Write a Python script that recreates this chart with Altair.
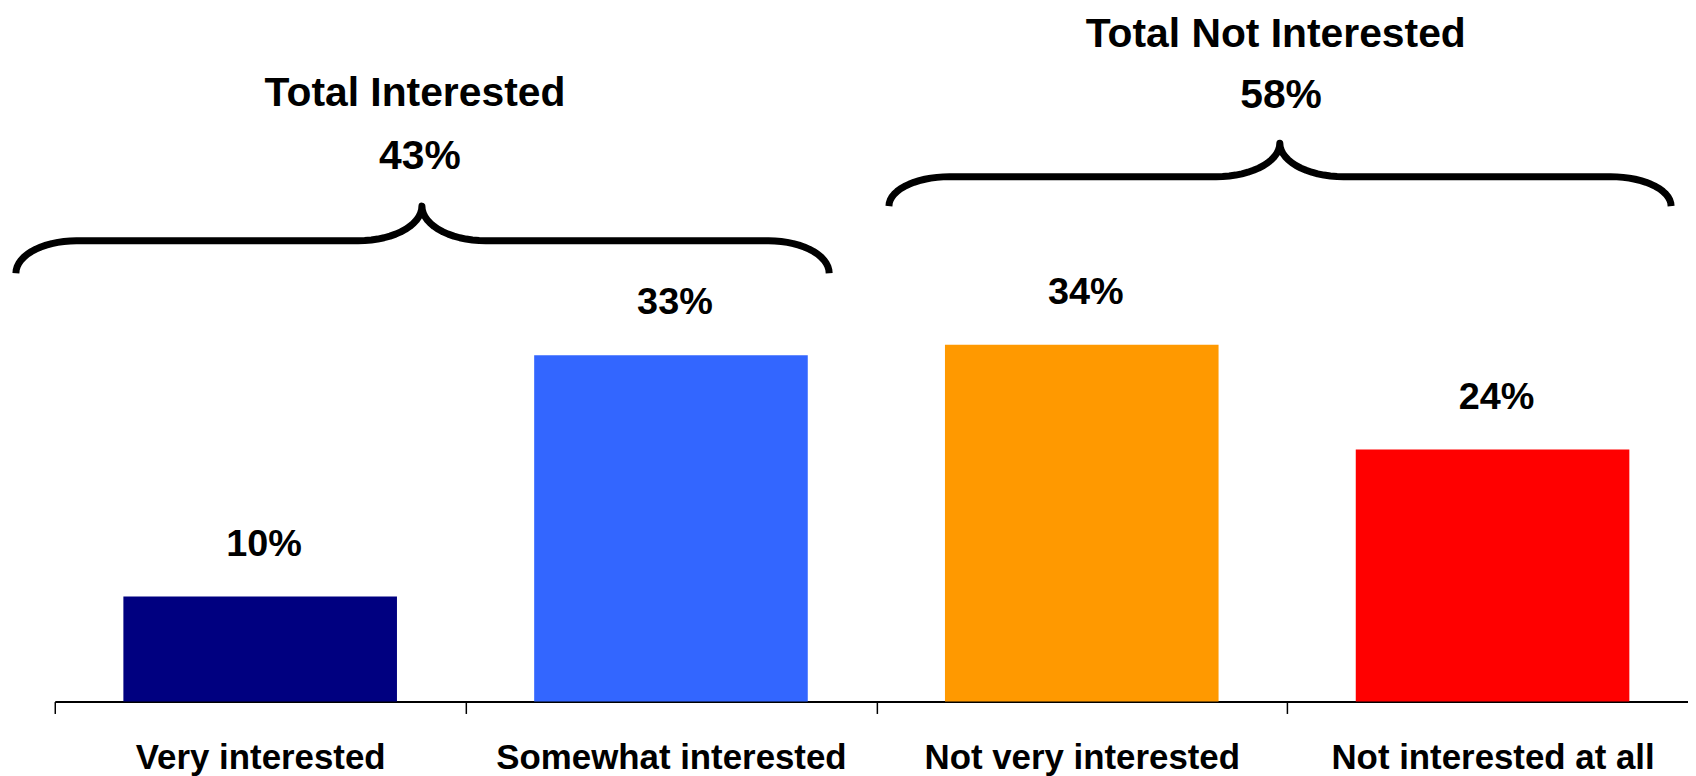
import altair as alt
import numpy as np
import pandas as pd

# ---------------- data ----------------
categories = ["Very interested", "Somewhat interested", "Not very interested", "Not interested at all"]
values = [10, 33, 34, 24]
value_labels = ["10%", "33%", "34%", "24%"]
bar_colors = ["#000080", "#3366FF", "#FF9900", "#FF0000"]

group_titles = ["Total Interested", "Total Not Interested"]
group_totals = ["43%", "58%"]

# ---------------- layout (category units on x, percent units on y) ----------------
FONT = "Liberation Sans"
PLOT_W, PLOT_H = 1641, 695
X_RANGE = [0, 1651]
Y_DOMAIN = [0, 65.9]

# brace geometry: start, tip, end (category units); base, middle, peak (percent units)
brace_start = [-0.095, 2.038]
brace_tip = [0.897, 2.993]
brace_end = [1.892, 3.949]
brace_base = [40.8, 47.2]
brace_mid = [43.9, 50.0]
brace_peak = [47.2, 53.2]
ARM_W = 0.148
CUSP_W = 0.156

title_u = [0.880, 2.983]
title_v = [56.7, 62.4]
total_u = [0.892, 2.996]
total_v = [50.7, 56.5]

bars_df = pd.DataFrame({"category": categories, "value": values,
                        "label": value_labels, "color": bar_colors})

rows = []
t = np.linspace(0, np.pi / 2, 16)
for b in range(2):
    x0, xc, x1 = brace_start[b], brace_tip[b], brace_end[b]
    yb, yh, yc = brace_base[b], brace_mid[b], brace_peak[b]
    pts = []
    pts += list(zip(x0 + ARM_W * (1 - np.cos(t)), yb + (yh - yb) * np.sin(t)))
    pts += list(zip(xc - CUSP_W + CUSP_W * np.sin(t), yc - (yc - yh) * np.cos(t)))
    tr = t[::-1]
    pts += list(zip(xc + CUSP_W - CUSP_W * np.sin(tr), yc - (yc - yh) * np.cos(tr)))
    pts += list(zip(x1 - ARM_W * (1 - np.cos(tr)), yb + (yh - yb) * np.sin(tr)))
    for i, (u, v) in enumerate(pts):
        rows.append({"brace": b, "order": i, "u": float(u), "v": float(v)})
brace_df = pd.DataFrame(rows)

title_df = pd.DataFrame({"u": title_u, "v": title_v, "text": group_titles})
total_df = pd.DataFrame({"u": total_u, "v": total_v, "text": group_totals})

# ---------------- scales ----------------
band_scale = alt.Scale(range=X_RANGE, paddingInner=0, paddingOuter=0)
y_scale = alt.Scale(domain=Y_DOMAIN, nice=False, zero=True)
u_scale = alt.Scale(domain=[0, 4], range=[0, 1645], nice=False, zero=False)

x_axis = alt.Axis(title=None, labelAngle=0, labelFont=FONT, labelFontSize=35,
                  labelFontWeight="bold", labelColor="black", labelBaseline="alphabetic",
                  labelPadding=55, labelLimit=600, tickBand="extent", tickSize=12,
                  tickColor="black", tickWidth=1.5, domainColor="black", domainWidth=2,
                  grid=False)

bars = alt.Chart(bars_df).mark_bar(width=alt.RelativeBandSize(0.666)).encode(
    x=alt.X("category:N", sort=categories, scale=band_scale, axis=x_axis),
    y=alt.Y("value:Q", scale=y_scale, axis=None),
    color=alt.Color("color:N", scale=None),
)

bar_text = alt.Chart(bars_df).mark_text(
    font=FONT, fontSize=38, fontWeight="bold", baseline="alphabetic", dy=-41, dx=4, color="black"
).encode(
    x=alt.X("category:N", sort=categories, scale=band_scale, axis=None),
    y=alt.Y("value:Q", scale=y_scale, axis=None),
    text="label:N",
)

braces = alt.Chart(brace_df).mark_line(
    color="black", strokeWidth=7, strokeCap="butt", strokeJoin="round"
).encode(
    x=alt.X("u:Q", scale=u_scale, axis=None),
    y=alt.Y("v:Q", scale=y_scale, axis=None),
    detail="brace:N",
    order="order:Q",
)

titles = alt.Chart(title_df).mark_text(
    font=FONT, fontSize=41, fontWeight="bold", baseline="alphabetic", color="black"
).encode(
    x=alt.X("u:Q", scale=u_scale, axis=None),
    y=alt.Y("v:Q", scale=y_scale, axis=None),
    text="text:N",
)

totals = alt.Chart(total_df).mark_text(
    font=FONT, fontSize=41, fontWeight="bold", baseline="alphabetic", color="black"
).encode(
    x=alt.X("u:Q", scale=u_scale, axis=None),
    y=alt.Y("v:Q", scale=y_scale, axis=None),
    text="text:N",
)

chart = alt.layer(bars, bar_text, braces, titles, totals).resolve_scale(
    x="independent"
).properties(
    width=PLOT_W, height=PLOT_H,
    autosize=alt.AutoSizeParams(type="none"),
    padding={"left": 47, "top": 0, "right": 0, "bottom": 73},
    background="white",
).configure_view(stroke=None)

chart.save("out.html", embed_options={"renderer": "svg", "actions": False})
